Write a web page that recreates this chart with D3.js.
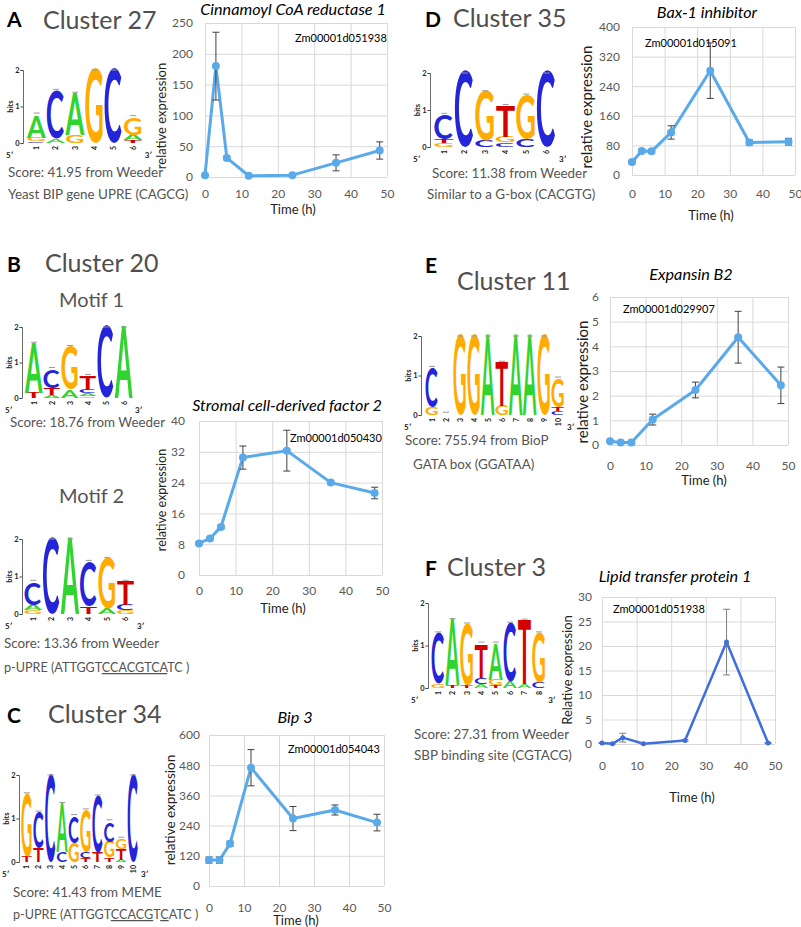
<!DOCTYPE html>
<html>
<head>
<meta charset="utf-8">
<script src="https://cdn.jsdelivr.net/npm/d3@7"></script>
<style>
body { margin: 0; background: #fff; }
svg text { font-family: Lato, 'Open Sans', sans-serif; }
</style>
</head>
<body>
<svg id="fig" width="801" height="927"></svg>
<script>
// sampling times (h) and x ticks, shared by all panels
var times = [0, 3, 6, 12, 24, 36, 48];
var xTicks = [0, 10, 20, 30, 40, 50];

// expression series (mean, error)
var ccr1 = [3, 180, 31, 2, 3, 23, 43];
var ccr1Err = [1, 55, 3, 1, 2, 13, 14];
var bax1 = [35, 65, 64, 115, 282, 88, 90];
var bax1Err = [5, 5, 5, 18, 75, 7, 9];
var sdf2 = [8.2, 9.5, 12.5, 30.5, 32.3, 24, 21.3];
var sdf2Err = [0.3, 0.4, 0.5, 3, 5.3, 0.4, 1.5];
var bip3 = [103, 103, 168, 470, 268, 302, 252];
var bip3Err = [12, 12, 10, 72, 48, 20, 33];
var expB2 = [0.15, 0.1, 0.1, 1.03, 2.23, 4.37, 2.42];
var expB2Err = [0.03, 0.03, 0.05, 0.22, 0.32, 1.05, 0.74];
var ltp1 = [0.2, 0.05, 1.3, 0.05, 0.7, 20.8, 0.2];
var ltp1Err = [0.1, 0.1, 0.9, 0.05, 0.2, 6.7, 0.1];

// motif logos: per position, letters from bottom to top with height in bits
var logo27 = [
  [['C', 0.05], ['G', 0.1], ['A', 0.6]],
  [['A', 0.12], ['C', 1.28]],
  [['G', 0.22], ['A', 1.1]],
  [['G', 1.97]],
  [['C', 1.97]],
  [['T', 0.08], ['A', 0.14], ['G', 0.46]]
];
var logo35 = [
  [['G', 0.12], ['T', 0.1], ['C', 0.62]],
  [['C', 1.97]],
  [['C', 0.18], ['G', 1.27]],
  [['C', 0.12], ['G', 0.15], ['T', 0.81]],
  [['C', 0.2], ['G', 1.16]],
  [['C', 1.97]]
];
var logo20a = [
  [['T', 0.15], ['A', 1.35]],
  [['A', 0.08], ['T', 0.2], ['C', 0.51]],
  [['A', 0.23], ['G', 1.18]],
  [['G', 0.05], ['A', 0.08], ['C', 0.1], ['T', 0.36]],
  [['C', 1.97]],
  [['A', 1.97]]
];
var logo20b = [
  [['G', 0.1], ['A', 0.14], ['C', 0.59]],
  [['C', 1.97]],
  [['A', 1.97]],
  [['T', 0.19], ['C', 1.17]],
  [['A', 0.15], ['G', 1.29]],
  [['G', 0.1], ['C', 0.14], ['T', 0.59]]
];
var logo34 = [
  [['T', 0.12], ['G', 1.4]],
  [['T', 0.3], ['C', 0.8]],
  [['C', 1.95]],
  [['C', 0.22], ['A', 1.08]],
  [['G', 0.44], ['C', 0.58]],
  [['T', 0.09], ['C', 0.12], ['G', 0.94]],
  [['T', 0.21], ['C', 1.26]],
  [['T', 0.1], ['G', 0.36], ['C', 0.44]],
  [['A', 0.05], ['T', 0.25], ['G', 0.2]],
  [['C', 1.95]]
];
var logo11 = [
  [['G', 0.2], ['C', 0.96]],
  [],
  [['G', 1.97]],
  [['G', 1.97]],
  [['A', 1.97]],
  [['G', 0.22], ['T', 1.07]],
  [['A', 1.97]],
  [['A', 1.97]],
  [['G', 1.97]],
  [['C', 0.1], ['T', 0.1], ['G', 0.69]]
];
var logo3 = [
  [['G', 0.1], ['C', 1.15]],
  [['T', 0.06], ['A', 1.5]],
  [['T', 0.06], ['G', 1.4]],
  [['A', 0.1], ['C', 0.14], ['T', 0.77]],
  [['T', 0.07], ['G', 0.12], ['A', 0.82]],
  [['A', 0.14], ['C', 1.34]],
  [['A', 0.1], ['T', 1.45]],
  [['C', 0.12], ['G', 1.13]]
];

var baseColor = { A: '#2fd42f', C: '#2424d8', G: '#ffab00', T: '#d40000' };

var svg = d3.select('#fig');

// tight glyph boxes so stretched letters fill their cells
var glyphBox = {};
(function() {
  var ctx = document.createElement('canvas').getContext('2d');
  ctx.font = "bold 100px 'Liberation Sans'";
  ['A', 'C', 'G', 'T'].forEach(function(l) {
    var m = ctx.measureText(l);
    glyphBox[l] = {
      l: m.actualBoundingBoxLeft, r: m.actualBoundingBoxRight,
      a: m.actualBoundingBoxAscent, d: m.actualBoundingBoxDescent
    };
  });
})();

function label(x, y, txt, o) {
  o = o || {};
  var t = svg.append('text')
    .attr('x', x).attr('y', y)
    .attr('font-size', o.size || 13)
    .attr('fill', o.fill || '#000')
    .attr('text-anchor', o.anchor || 'start')
    .text(txt);
  if (o.italic) t.attr('font-style', 'italic');
  if (o.bold) t.attr('font-weight', 'bold');
  if (o.family) t.attr('font-family', o.family);
  if (o.rotate) {
    t.attr('x', 0).attr('y', 0)
      .attr('transform', 'translate(' + x + ',' + y + ') rotate(-90)');
  }
  return t;
}

function drawLogo(cols, c) {
  var g = svg.append('g');
  var bits = d3.scaleLinear().domain([0, 2]).range([c.y0, c.y0 - 2 * c.ppb]);
  var pos = d3.scaleBand().domain(d3.range(1, cols.length + 1))
    .range([c.x0, c.x0 + cols.length * c.w]);

  var ax = g.append('g').attr('transform', 'translate(' + c.ax + ',0)')
    .call(d3.axisLeft(bits).tickValues([0, 1, 2]).tickSize(2.5).tickPadding(1).tickFormat(d3.format('d')));
  ax.select('.domain').attr('stroke', '#444').attr('stroke-width', 0.8);
  ax.selectAll('.tick line').attr('stroke', '#444');
  ax.selectAll('.tick text').attr('font-size', 7.5).attr('font-weight', 'bold')
    .attr('font-family', "'Liberation Sans', Arial, sans-serif").attr('fill', '#222');

  g.append('text')
    .attr('transform', 'translate(' + (c.ax - 10) + ',' + bits(1) + ') rotate(-90)')
    .attr('text-anchor', 'middle')
    .attr('font-size', 7.5).attr('font-weight', 'bold')
    .attr('font-family', "'Liberation Sans', Arial, sans-serif")
    .attr('fill', '#222').text('bits');

  cols.forEach(function(stack, i) {
    var base = 0, bx = pos(i + 1) + 0.5, bw = pos.bandwidth() - 1;
    stack.forEach(function(s) {
      var top = bits(base + s[1]), bot = bits(base);
      var b = glyphBox[s[0]];
      var sx = bw / (b.l + b.r), sy = (bot - top) / (b.a + b.d);
      g.append('text')
        .attr('font-family', "'Liberation Sans', Arial, sans-serif")
        .attr('font-weight', 'bold').attr('font-size', 100)
        .attr('fill', baseColor[s[0]])
        .attr('transform', 'translate(' + bx + ',' + top + ') scale(' + sx + ',' + sy + ') translate(' + b.l + ',' + b.a + ')')
        .text(s[0]);
      base += s[1];
    });
    // small error cap above each stack
    var cy = bits(Math.min(base + 0.07, 2));
    g.append('line')
      .attr('x1', bx + bw / 2 - 3).attr('x2', bx + bw / 2 + 3)
      .attr('y1', cy).attr('y2', cy)
      .attr('stroke', '#999').attr('stroke-width', 1);
    // position number
    g.append('text')
      .attr('transform', 'translate(' + (bx + bw / 2 + 2.5) + ',' + (c.y0 + 3) + ') rotate(-90)')
      .attr('text-anchor', 'end')
      .attr('font-size', 7).attr('font-weight', 'bold')
      .attr('font-family', "'Liberation Sans', Arial, sans-serif")
      .attr('fill', '#222').text(i + 1);
  });

  var right = c.x0 + cols.length * c.w;
  g.append('text').attr('x', c.ax - 17).attr('y', c.y0 + 15)
    .attr('font-size', 8).attr('font-weight', 'bold').attr('fill', '#222')
    .attr('font-family', "'Liberation Sans', Arial, sans-serif").text('5\u2032');
  g.append('text').attr('x', right + 2).attr('y', c.y0 + 15)
    .attr('font-size', 8).attr('font-weight', 'bold').attr('fill', '#222')
    .attr('font-family', "'Liberation Sans', Arial, sans-serif").text('3\u2032');
}

function drawChart(c) {
  var x = d3.scaleLinear().domain([0, 50]).range([c.left, c.right]);
  var y = d3.scaleLinear().domain([0, c.yMax]).range([c.bottom, c.top]);
  var g = svg.append('g');

  g.append('g').attr('transform', 'translate(' + c.left + ',0)')
    .call(d3.axisLeft(y).tickValues(d3.range(0, c.yMax + c.yStep / 2, c.yStep))
      .tickSize(-(c.right - c.left)).tickPadding(c.left - c.tickRight).tickFormat(d3.format('d')));
  g.append('g').attr('transform', 'translate(0,' + c.bottom + ')')
    .call(d3.axisBottom(x).tickValues(xTicks)
      .tickSize(-(c.bottom - c.top)).tickPadding(c.xPad));
  g.selectAll('.domain').remove();
  g.selectAll('.tick line').attr('stroke', '#d9d9d9');
  g.selectAll('.tick text').attr('fill', '#595959').attr('font-size', 12)
    .attr('font-family', 'Lato, sans-serif');

  var pts = times.map(function(t, i) {
    return { t: t, v: c.values[i], e: c.errors[i] };
  });

  g.append('path').datum(pts)
    .attr('d', d3.line().x(function(d) { return x(d.t); }).y(function(d) { return y(d.v); }))
    .attr('fill', 'none').attr('stroke', c.color)
    .attr('stroke-width', c.lw).attr('stroke-linejoin', 'round');

  var eb = g.selectAll('g.err').data(pts).join('g').attr('class', 'err');
  function errLine(sel, f) {
    sel.append('line').each(function(d) {
      var a = f(d);
      d3.select(this).attr('x1', a[0]).attr('x2', a[1]).attr('y1', a[2]).attr('y2', a[3]);
    }).attr('stroke', c.errColor).attr('stroke-width', 1);
  }
  errLine(eb, function(d) { return [x(d.t), x(d.t), y(d.v + d.e), y(Math.max(0, d.v - d.e))]; });
  errLine(eb, function(d) { return [x(d.t) - 3.5, x(d.t) + 3.5, y(d.v + d.e), y(d.v + d.e)]; });
  errLine(eb, function(d) { var b = y(Math.max(0, d.v - d.e)); return [x(d.t) - 3.5, x(d.t) + 3.5, b, b]; });

  g.selectAll('circle').data(pts).join('circle')
    .attr('cx', function(d) { return x(d.t); })
    .attr('cy', function(d) { return y(d.v); })
    .attr('r', c.r).attr('fill', c.color);

  label(c.titleX, c.titleY, c.title, { size: 16.2, italic: true, anchor: 'middle' });
  label(c.geneX, c.geneY, c.gene, { size: 11 });
  label(c.timeX, c.timeY, 'Time (h)', { size: 13, anchor: 'middle', fill: '#222' });
  label(c.ylabX, c.ylabY, c.ylab || 'relative expression', { size: c.ylabSize, anchor: 'middle', rotate: true, fill: '#222' });
}

// ---- panel headers and annotations ----
var grey = '#555';
function head(letter, lx, ly, cluster, cx, cy) {
  label(lx, ly, letter, { size: 21, bold: true, family: "'Liberation Sans', Arial, sans-serif" });
  label(cx, cy, cluster, { size: 25, fill: '#4f4f4f' });
}

head('A', 7, 27, 'Cluster 27', 43, 29);
head('B', 7, 272, 'Cluster 20', 45, 272);
head('C', 7, 723, 'Cluster 34', 48, 723);
head('D', 425, 27, 'Cluster 35', 453, 27);
head('E', 425, 273, 'Cluster 11', 457, 290);
head('F', 425, 576, 'Cluster 3', 447, 576);

label(59, 307, 'Motif 1', { size: 20, fill: grey });
label(59, 503, 'Motif 2', { size: 20, fill: grey });

var noteSize = 13.4;
label(8, 177, 'Score: 41.95 from Weeder', { fill: grey, size: noteSize });
label(8, 199, 'Yeast BIP gene UPRE (CAGCG)', { fill: grey, size: noteSize });
label(10, 427, 'Score: 18.76 from Weeder', { fill: grey, size: noteSize });
label(4, 648, 'Score: 13.36 from Weeder', { fill: grey, size: noteSize });
label(13, 897, 'Score: 41.43 from MEME', { fill: grey, size: noteSize });
label(432, 178, 'Score: 11.38 from Weeder', { fill: grey, size: noteSize });
label(427, 199, 'Similar to a G-box (CACGTG)', { fill: grey, size: noteSize });
label(405, 445, 'Score: 755.94 from BioP', { fill: grey, size: noteSize });
label(413, 469, 'GATA box (GGATAA)', { fill: grey, size: noteSize });
label(414, 739, 'Score: 27.31 from Weeder', { fill: grey, size: noteSize });
label(414, 760, 'SBP binding site (CGTACG)', { fill: grey, size: noteSize });

function upre(x, y, parts) {
  var t = label(x, y, '', { fill: grey, size: 12.6 });
  parts.forEach(function(p) {
    var s = t.append('tspan').text(p[0]);
    if (p[1]) s.style('text-decoration', 'underline');
  });
}
upre(4, 672, [['p-UPRE (ATTGGT'], ['CCACGTCA', true], ['TC )']]);
upre(13, 919, [['p-UPRE (ATTGGT'], ['CCACG', true], ['T'], ['C', true], ['ATC )']]);

// ---- logos ----
drawLogo(logo27, { ax: 23, x0: 27, w: 19.3, y0: 143, ppb: 36.5 });
drawLogo(logo35, { ax: 430, x0: 434, w: 20.5, y0: 147, ppb: 37 });
drawLogo(logo20a, { ax: 22, x0: 25, w: 18, y0: 398, ppb: 35.5 });
drawLogo(logo20b, { ax: 22, x0: 24, w: 18.5, y0: 614, ppb: 37.5 });
drawLogo(logo34, { ax: 19, x0: 21, w: 11.8, y0: 862, ppb: 43.5 });
drawLogo(logo11, { ax: 421, x0: 425, w: 14, y0: 415, ppb: 39.5 });
drawLogo(logo3, { ax: 428, x0: 431, w: 14.4, y0: 688, ppb: 42.5 });

// ---- expression charts ----
var lightBlue = '#5aaaea';
drawChart({ values: ccr1, errors: ccr1Err, left: 205, right: 387, top: 23, bottom: 177,
  yMax: 250, yStep: 50, tickRight: 193, xPad: 12.5, color: lightBlue, lw: 3, r: 4, errColor: '#404040',
  title: 'Cinnamoyl CoA reductase 1', titleX: 293, titleY: 15,
  gene: 'Zm00001d051938', geneX: 295, geneY: 42, timeX: 293, timeY: 214,
  ylabX: 166, ylabY: 116, ylabSize: 13 });
drawChart({ values: sdf2, errors: sdf2Err, left: 199, right: 382, top: 421, bottom: 575,
  yMax: 40, yStep: 8, tickRight: 185, xPad: 11.5, color: lightBlue, lw: 3, r: 4, errColor: '#404040',
  title: 'Stromal cell-derived factor 2', titleX: 287, titleY: 411,
  gene: 'Zm00001d050430', geneX: 290, geneY: 442, timeX: 283, timeY: 613,
  ylabX: 166, ylabY: 500, ylabSize: 12.5 });
drawChart({ values: bip3, errors: bip3Err, left: 209, right: 384, top: 735, bottom: 886,
  yMax: 600, yStep: 120, tickRight: 200, xPad: 17, color: lightBlue, lw: 3, r: 4, errColor: '#404040',
  title: 'Bip 3', titleX: 295, titleY: 723,
  gene: 'Zm00001d054043', geneX: 288, geneY: 753, timeX: 296, timeY: 925,
  ylabX: 175, ylabY: 810, ylabSize: 13.5 });
drawChart({ values: bax1, errors: bax1Err, left: 632, right: 795, top: 27, bottom: 175,
  yMax: 400, yStep: 80, tickRight: 620, xPad: 14.5, color: lightBlue, lw: 3, r: 4, errColor: '#404040',
  title: 'Bax-1 inhibitor', titleX: 707, titleY: 18,
  gene: 'Zm00001d015091', geneX: 645, geneY: 47, timeX: 711, timeY: 220,
  ylabX: 592, ylabY: 107, ylabSize: 15 });
drawChart({ values: expB2, errors: expB2Err, left: 610, right: 788, top: 297, bottom: 445,
  yMax: 6, yStep: 1, tickRight: 599, xPad: 16.5, color: lightBlue, lw: 3, r: 4, errColor: '#404040',
  title: 'Expansin B2', titleX: 691, titleY: 280,
  gene: 'Zm00001d029907', geneX: 623, geneY: 313, timeX: 704, timeY: 485,
  ylabX: 588, ylabY: 382, ylabSize: 15 });
drawChart({ values: ltp1, errors: ltp1Err, left: 602, right: 775, top: 597, bottom: 744,
  yMax: 30, yStep: 5, tickRight: 592, xPad: 17.5, color: '#3f6fdc', lw: 2.5, r: 2.5, errColor: '#808080',
  title: 'Lipid transfer protein 1', titleX: 675, titleY: 582,
  gene: 'Zm00001d051938', geneX: 613, geneY: 613, timeX: 692, timeY: 802,
  ylab: 'Relative expression', ylabX: 572, ylabY: 670, ylabSize: 13 });
</script>
</body>
</html>
